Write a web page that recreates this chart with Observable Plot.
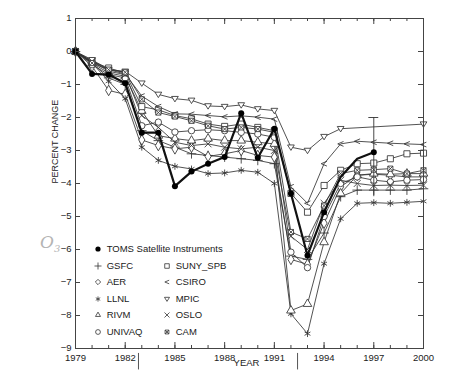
<!DOCTYPE html>
<html><head><meta charset="utf-8">
<script src="https://cdn.jsdelivr.net/npm/d3@7"></script>
<script src="https://cdn.jsdelivr.net/npm/@observablehq/plot@0.6"></script>
<style>
body{margin:0;background:#fff;}
#wrap{position:relative;width:472px;height:383px;font-family:"Liberation Sans",Arial,Helvetica,sans-serif;color:#222;}
#wrap svg.plot{position:absolute;left:0;top:0;}
.leg{position:absolute;font-size:9.5px;line-height:12px;white-space:nowrap;color:#1a1a1a;}
.leg svg{position:absolute;}
.o3{position:absolute;left:40px;top:232px;font-family:"DejaVu Serif",serif;font-style:italic;font-size:17px;line-height:20px;color:#b4b4b4;}
.o3 sub{font-size:10px;}
</style></head><body><div id="wrap"></div>
<script>
// ---- data (percent change of global ozone) ----
const years = d3.range(1979, 2001);
const toms   = [0,-0.68,-0.7,-0.96,-2.46,-2.46,-4.08,-3.64,-3.4,-3.2,-1.87,-3.22,-2.34,-4.3,-6.18,-4.87,-3.8,-3.25,-3.05,null,null,null];
const gsfc   = [0,-0.35,-0.8,-1.0,-2.4,-2.7,-2.9,-3.1,-3.15,-3.2,-3.25,-3.3,-3.4,-6.2,-6.3,-5.5,-4.4,-4.2,-4.2,-4.2,-4.2,-4.16];
const aer    = [0,-0.45,-1.18,-1.3,-2.68,-2.85,-2.95,-2.9,-3.18,-3.1,-3.0,-3.15,-3.2,-6.3,-6.45,-5.2,-4.1,-3.75,-3.72,-3.75,-3.8,-3.8];
const llnl   = [0,-0.35,-0.9,-1.43,-2.9,-3.3,-3.48,-3.56,-3.7,-3.68,-3.6,-3.66,-4.0,-7.95,-8.55,-6.43,-5.07,-4.6,-4.58,-4.6,-4.57,-4.54];
const rivm   = [0,-0.35,-0.65,-0.75,-1.8,-2.55,-2.64,-2.7,-2.64,-2.7,-2.7,-2.75,-2.8,-7.85,-7.65,-5.78,-4.3,-3.75,-3.7,-3.72,-3.7,-3.7];
const univaq = [0,-0.4,-0.7,-0.8,-2.25,-2.14,-2.44,-2.4,-2.37,-2.4,-2.45,-2.5,-2.6,-6.08,-6.55,-5.0,-4.0,-3.8,-3.9,-3.95,-3.9,-3.88];
const suny   = [0,-0.3,-0.5,-0.65,-1.67,-1.77,-1.94,-2.04,-2.2,-2.27,-2.2,-2.3,-2.4,-4.3,-4.87,-4.06,-3.6,-3.4,-3.38,-3.25,-3.1,-3.08];
const csiro  = [0,-0.3,-0.55,-0.68,-1.35,-1.67,-1.89,-1.9,-1.94,-1.98,-1.95,-1.99,-2.05,-4.1,-4.6,-3.4,-2.8,-2.72,-2.75,-2.78,-2.8,-2.82];
const mpic   = [0,-0.25,-0.55,-0.6,-0.96,-1.3,-1.43,-1.48,-1.65,-1.67,-1.62,-1.74,-1.79,-2.9,-3.0,-2.58,-2.34,null,null,null,null,-2.2];
const oslo   = [0,-0.3,-0.6,-0.7,-1.94,-2.3,-2.75,-2.85,-2.8,-2.9,-2.95,-2.9,-3.0,-5.6,-6.0,-4.6,-3.9,-4.0,-4.06,-4.05,-4.06,-4.05];
const cam    = [0,-0.35,-0.55,-0.63,-1.45,-1.85,-1.97,-2.1,-2.25,-2.35,-2.3,-2.35,-2.45,-5.47,-5.68,-4.67,-3.7,-3.6,-3.58,-3.55,-3.7,-3.6];
const tomsErrYear = 1997, tomsErrLo = -4.4, tomsErrHi = -2.0;
const eruptions = [1982.8, 1992.4];
const xMajor = [1979,1982,1985,1988,1991,1994,1997,2000];
const yTicks = d3.range(-9, 2);

// ---- symbols ----
const triDown = {draw(c, s){const r=Math.sqrt(s/Math.PI); c.moveTo(-r*1.05,-r*0.7); c.lineTo(r*1.05,-r*0.7); c.lineTo(0,r*1.0); c.closePath();}};
const chevron = {draw(c, s){const r=Math.sqrt(s/Math.PI); c.moveTo(r*0.9,-r*0.75); c.lineTo(-r*0.9,0); c.lineTo(r*0.9,r*0.75);}};
const boxX = {draw(c, s){const r=Math.sqrt(s/Math.PI)*0.8; c.moveTo(-r,-r); c.lineTo(r,-r); c.lineTo(r,r); c.lineTo(-r,r); c.closePath(); c.moveTo(-r,-r); c.lineTo(r,r); c.moveTo(r,-r); c.lineTo(-r,r);}};
const squareS = {draw(c, s){const r=Math.sqrt(s/Math.PI)*0.95; c.moveTo(-r,-r); c.lineTo(r,-r); c.lineTo(r,r); c.lineTo(-r,r); c.closePath();}};
const symMap = {plus: d3.symbolPlus, diamond: d3.symbolDiamond2, asterisk: d3.symbolAsterisk, triangle: d3.symbolTriangle2, circle: d3.symbolCircle, times: d3.symbolTimes};

const models = [
  {name:"GSFC", values:gsfc, sym:"plus", fill:"none"},
  {name:"AER", values:aer, sym:"diamond", fill:"white"},
  {name:"LLNL", values:llnl, sym:"asterisk", fill:"none"},
  {name:"RIVM", values:rivm, sym:"triangle", fill:"white"},
  {name:"UNIVAQ", values:univaq, sym:"circle", fill:"white"},
  {name:"SUNY_SPB", values:suny, sym:squareS, fill:"white"},
  {name:"CSIRO", values:csiro, sym:chevron, fill:"none"},
  {name:"MPIC", values:mpic, sym:triDown, fill:"white"},
  {name:"OSLO", values:oslo, sym:"times", fill:"none"},
  {name:"CAM", values:cam, sym:boxX, fill:"white"}
];
const rows = v => years.map((y,i)=>({year:y, value:v[i]})).filter(d=>d.value!=null);

const W=472, H=383, mL=75, mR=49, mT=18, mB=35;
const iW=W-mL-mR, iH=H-mT-mB;
const ink="#333";

const marks = [];
for (const m of models) marks.push(Plot.line(rows(m.values), {x:"year", y:"value", stroke:ink, strokeWidth:0.85}));
for (const m of models) marks.push(Plot.dot(rows(m.values), {x:"year", y:"value", symbol:m.sym, r:3.2, stroke:ink, strokeWidth:0.85, fill:m.fill}));
// TOMS error bar with cap
marks.push(Plot.ruleX([tomsErrYear], {x:d=>d, y1:tomsErrLo, y2:tomsErrHi, stroke:ink, strokeWidth:0.9}));
marks.push(Plot.ruleY([tomsErrHi], {y:d=>d, x1:tomsErrYear-0.3, x2:tomsErrYear+0.3, stroke:ink, strokeWidth:0.9}));
// TOMS observations
marks.push(Plot.line(rows(toms), {x:"year", y:"value", stroke:"#111", strokeWidth:2.2}));
marks.push(Plot.dot(rows(toms).filter(d=>d.year<1995||d.year===1997), {x:"year", y:"value", r:3, fill:"#000", stroke:"none"}));
// frame & inward ticks
marks.push(Plot.frame({stroke:"#444", strokeWidth:1}));
marks.push(Plot.ruleX(xMajor, {x:d=>d, insetTop:iH-6, stroke:"#444"}));
marks.push(Plot.ruleX(years, {x:d=>d, insetTop:iH-3, stroke:"#444"}));
marks.push(Plot.ruleX(xMajor, {x:d=>d, insetBottom:iH-6, stroke:"#444"}));
marks.push(Plot.ruleX(years, {x:d=>d, insetBottom:iH-3, stroke:"#444"}));
marks.push(Plot.ruleY(yTicks, {y:d=>d, insetRight:iW-5, stroke:"#444"}));
marks.push(Plot.ruleY(yTicks, {y:d=>d, insetLeft:iW-5, stroke:"#444"}));
// eruption markers below axis
marks.push(Plot.ruleX(eruptions, {x:d=>d, y1:-9.15, y2:-9.65, stroke:"#555", strokeWidth:1}));
// axes
marks.push(Plot.axisX(xMajor, {tickSize:0, tickPadding:6, tickFormat:"d", fontSize:9.5, label:null}));
marks.push(Plot.axisY(yTicks, {tickSize:0, tickPadding:4, dy:-1, fontSize:9.5, label:null}));
marks.push(Plot.text(["PERCENT CHANGE"], {frameAnchor:"left", dx:-20, rotate:-90, fontSize:9, fill:"#222"}));
marks.push(Plot.text(["YEAR"], {frameAnchor:"bottom", dx:-3, dy:17, fontSize:9.5, fill:"#222"}));

const chart = Plot.plot({
  width:W, height:H, marginLeft:mL, marginRight:mR, marginTop:mT, marginBottom:mB,
  style:{fontFamily:"'Liberation Sans', Arial, Helvetica, sans-serif", color:"#222", background:"white"},
  x:{type:"linear", domain:[1979,2000], axis:null},
  y:{type:"linear", domain:[-9,1], axis:null},
  marks
});
const wrap = document.getElementById("wrap");
wrap.appendChild(chart);

// ---- legend (inside the plot, lower left) ----
const legendItems = [
  {name:"TOMS Satellite Instruments", col:0, row:0, sym:"circle", fill:"#000", stroke:"none", r:2.6},
  ...models.map((m,i)=>({name:m.name, col: i<5?0:1, row:(i%5)+1, sym:m.sym, fill:m.fill, stroke:ink, r:2.4}))
];
const rowY = [249, 265.7, 282.3, 298.7, 315.3, 332];
const colX = [97.7, 166.7];
for (const it of legendItems) {
  const cx = colX[it.col], cy = rowY[it.row];
  const type = typeof it.sym === "string" ? symMap[it.sym] : it.sym;
  const p = d3.symbol(type, Math.PI*it.r*it.r)();
  const div = document.createElement("div");
  div.className = "leg";
  div.style.left = (cx-6)+"px"; div.style.top = (cy-6)+"px";
  div.innerHTML = `<svg width="12" height="12" style="left:0;top:0"><path transform="translate(6,6)" d="${p}" fill="${it.fill}" stroke="${it.stroke}" stroke-width="0.8"/></svg><span style="position:absolute;left:15px;top:0">${it.name}</span>`;
  wrap.appendChild(div);
}
const o3 = document.createElement("div");
o3.className = "o3";
o3.innerHTML = "O<sub>3</sub>";
wrap.appendChild(o3);
</script>
</body></html>
